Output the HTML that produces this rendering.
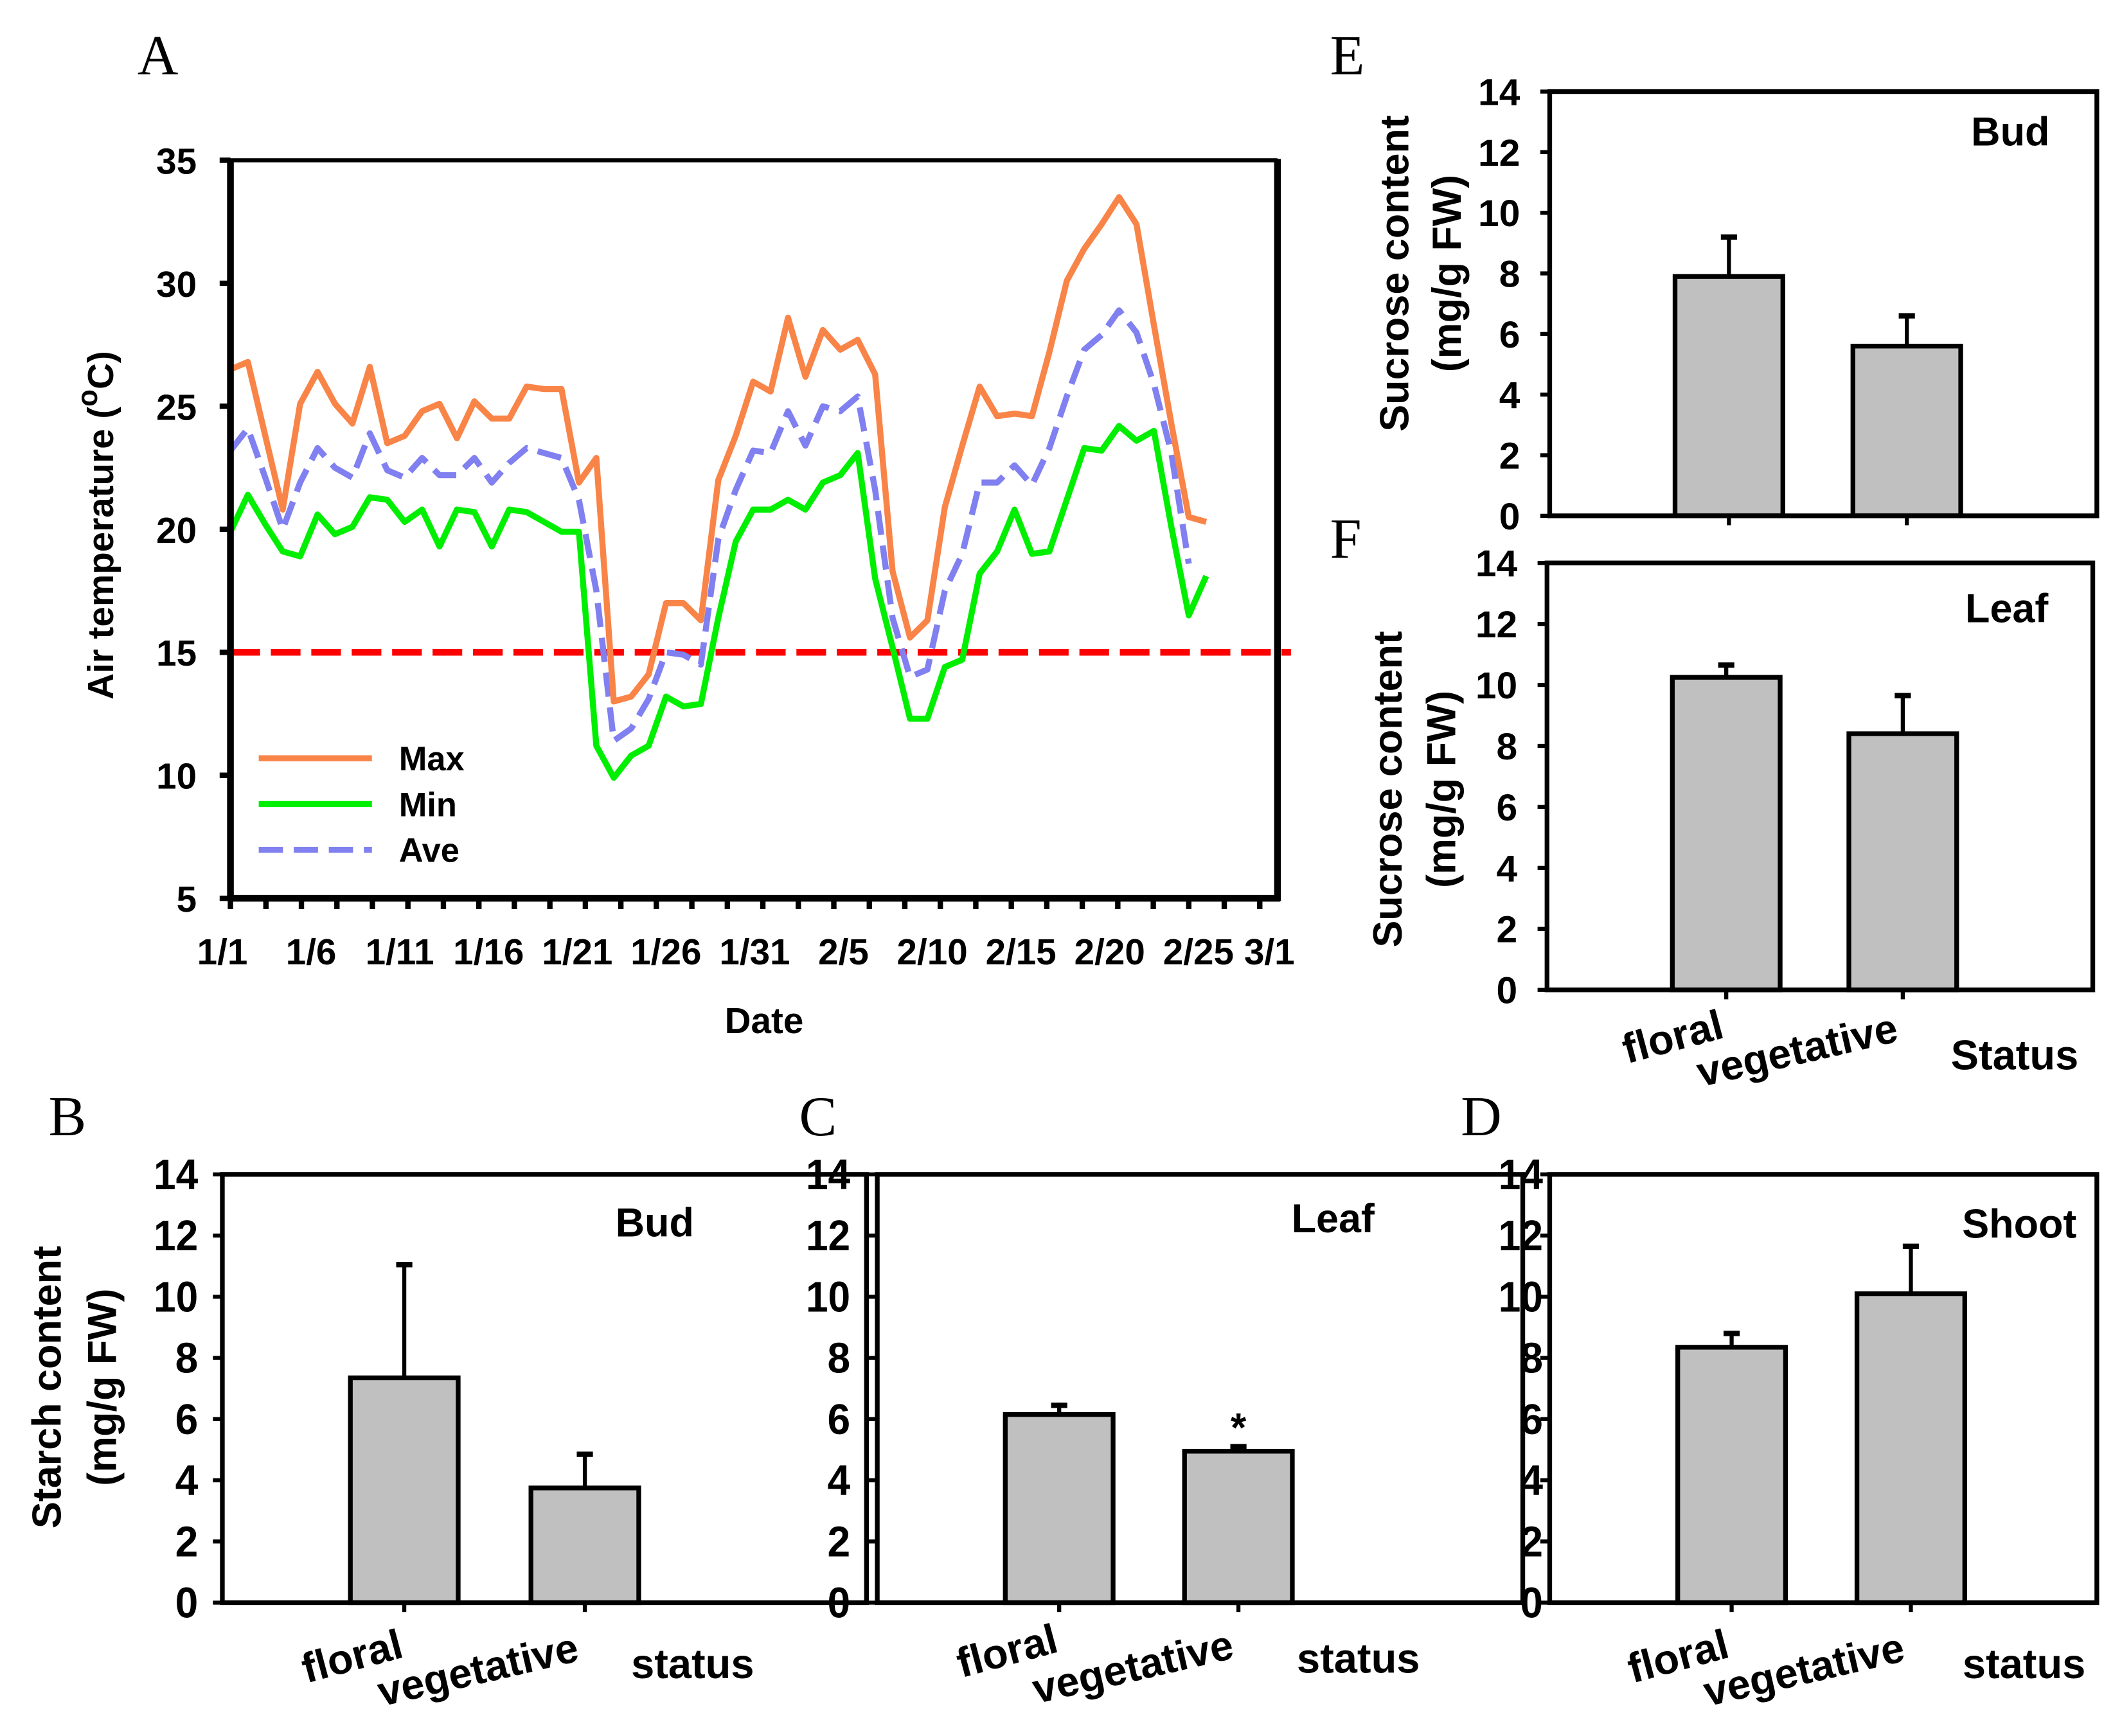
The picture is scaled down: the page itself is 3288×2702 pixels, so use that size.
<!DOCTYPE html>
<html><head><meta charset="utf-8"><style>
html,body{margin:0;padding:0;background:#fff}
svg{display:block}
text{font-family:"Liberation Sans",Arial,sans-serif;font-weight:bold;fill:#000}
.serif{font-family:"Liberation Serif",serif;font-weight:normal}
</style></head><body>
<svg id="fig" xmlns="http://www.w3.org/2000/svg" width="3288" height="2702" viewBox="0 0 1568 1289" preserveAspectRatio="none">
<rect width="1568" height="1289" fill="#fff"/>
<g id="root"></g>
</svg>
<script>
// ---- Panel A data ----
const dayIndex = Array.from({length:57},(_,i)=>i);
const maxTemp = [26.5,26.8,23.8,20.8,25.1,26.4,25.1,24.3,26.6,23.5,23.8,24.8,25.1,23.7,25.2,24.5,24.5,25.8,25.7,25.7,21.9,22.9,13.0,13.2,14.1,17.0,17.0,16.3,22.0,23.8,26.0,25.6,28.6,26.2,28.1,27.3,27.7,26.3,18.3,15.6,16.3,20.9,23.4,25.8,24.6,24.7,24.6,27.2,30.1,31.4,32.4,33.5,32.4,28.3,24.3,20.5,20.3];
const minTemp = [19.9,21.4,20.2,19.1,18.9,20.6,19.8,20.1,21.3,21.2,20.3,20.8,19.3,20.8,20.7,19.3,20.8,20.7,20.3,19.9,19.9,11.2,9.9,10.8,11.2,13.2,12.8,12.9,16.4,19.5,20.8,20.8,21.2,20.8,21.9,22.2,23.1,18.0,15.2,12.3,12.3,14.4,14.7,18.2,19.1,20.8,19.0,19.1,21.2,23.3,23.2,24.2,23.6,24.0,20.1,16.5,18.1];
const aveTemp = [23.2,24.1,22.1,20.0,21.9,23.3,22.5,22.1,23.9,22.4,22.1,22.9,22.2,22.2,22.9,21.9,22.7,23.3,23.1,22.9,21.2,17.5,11.4,11.9,13.1,15.0,14.9,14.5,19.6,21.6,23.2,23.1,24.8,23.4,25.0,24.8,25.4,21.6,16.4,14.0,14.3,17.5,19.0,21.9,21.9,22.6,21.8,23.3,25.4,27.3,27.9,28.9,28.0,25.9,23.1,18.6];
const thresholdTemp = 15;
const tempTicks = [5,10,15,20,25,30,35];
const dateLabels = ["1/1","1/6","1/11","1/16","1/21","1/26","1/31","2/5","2/10","2/15","2/20","2/25","3/1"];
const dateLabelDays = [0,5,10,15,20,25,30,35,40,45,50,55,59];

// ---- Bar panel data ----
const categories = ["floral","vegetative"];
const starchBud = [7.35,3.75]; const starchBudErr = [3.7,1.1];
const starchLeaf = [6.15,4.95]; const starchLeafErr = [0.3,0.15];
const starchShoot = [8.35,10.1]; const starchShootErr = [0.45,1.55];
const sucroseBud = [7.9,5.6]; const sucroseBudErr = [1.3,1.0];
const sucroseLeaf = [10.25,8.4]; const sucroseLeafErr = [0.4,1.25];
const barTicks = [0,2,4,6,8,10,12,14];

const NS="http://www.w3.org/2000/svg";
const root=document.getElementById('root');
function mk(tag,attrs,parent){const e=document.createElementNS(NS,tag);for(const k in attrs)e.setAttribute(k,attrs[k]);(parent||root).appendChild(e);return e;}
function txt(s,attrs,parent){const e=mk('text',attrs,parent);e.textContent=s;return e;}

// ===== Panel A =====
const A={x0:171,x1:948,y0:667,y1:119,tMin:5,tMax:35,perIdx:12.93,perDay:(948-171)/59};
const xIdx=i=>A.x0+i*A.perIdx;
const xDay=d=>A.x0+d*A.perDay;
const yT=t=>A.y0-(t-A.tMin)/(A.tMax-A.tMin)*(A.y0-A.y1);
const gA=mk('g',{});


let l=txt('A',{x:102,y:55,'font-size':42,class:'serif'},gA);

let th=mk('line',{x1:A.x0,x2:958,y1:yT(thresholdTemp),y2:yT(thresholdTemp),stroke:'#ff0000','stroke-width':5,'stroke-dasharray':'22 8'},gA);

function series(arr,color,dash,name){
  const p=mk('polyline',{points:arr.map((v,i)=>xIdx(i)+','+yT(v)).join(' '),fill:'none',stroke:color,'stroke-width':4.5,'stroke-linejoin':'round'},gA);
  if(dash)p.setAttribute('stroke-dasharray',dash);
  
}
series(aveTemp,'#8080f0','18 8','ave-line');
series(maxTemp,'#f98448',null,'max-line');
series(minTemp,'#00ee00',null,'min-line');
mk('line',{x1:A.x0,y1:A.y1,x2:A.x1,y2:A.y1,stroke:'#000','stroke-width':3},gA);
mk('line',{x1:A.x1,y1:A.y1-1,x2:A.x1,y2:A.y0+2,stroke:'#000','stroke-width':5},gA);
mk('line',{x1:A.x0,y1:A.y1-1,x2:A.x0,y2:A.y0+2,stroke:'#000','stroke-width':5},gA);
mk('line',{x1:A.x0-2,y1:A.y0,x2:A.x1+2,y2:A.y0,stroke:'#000','stroke-width':5},gA);
tempTicks.forEach(t=>{
  mk('line',{x1:A.x0-8,x2:A.x0,y1:yT(t),y2:yT(t),stroke:'#000','stroke-width':4},gA);
  let e=txt(String(t),{x:146,y:yT(t)+10,'font-size':27,'text-anchor':'end'},gA);
  
});
for(let d=0;d<=59;d+=2){mk('line',{x1:xDay(d),x2:xDay(d),y1:A.y0,y2:A.y0+8,stroke:'#000','stroke-width':4},gA);}
dateLabels.forEach((s,i)=>{
  let e=txt(s,{x:xDay(dateLabelDays[i])-6,y:716,'font-size':27,'text-anchor':'middle'},gA);
  
});
l=txt('Date',{x:567,y:767,'font-size':27,'text-anchor':'middle'},gA);

l=mk('text',{transform:'translate(84,390) rotate(-90)','font-size':27,'text-anchor':'middle'},gA);
l.innerHTML='Air temperature (<tspan dy="-12" font-size="21">o</tspan><tspan dy="12">C)</tspan>';

[['Max','#f98448',null,563],['Min','#00ee00',null,597],['Ave','#8080f0','18 8',631]].forEach(([n,c,d,y])=>{
  const g=mk('g',{},gA);
  
  const ln=mk('line',{x1:192,x2:276,y1:y,y2:y,stroke:c,'stroke-width':4.5},g);
  if(d)ln.setAttribute('stroke-dasharray',d);
  txt(n,{x:296,y:y+9,'font-size':25},g);
});

// ===== Bar panels =====
function barPanel(o){
  const g=mk('g',{});
  
  const yV=v=>o.yb-v/14*(o.yb-o.yt);
  const lab=txt(o.letter,{x:o.lx,y:o.ly,'font-size':42,class:'serif'},g);
  
  o.vals.forEach((v,i)=>{
    const cx=o.cx[i];
    const eb=mk('line',{x1:cx,x2:cx,y1:yV(v),y2:yV(v+o.errs[i]),stroke:'#000','stroke-width':3},g);
    
    mk('line',{x1:cx-6,x2:cx+6,y1:yV(v+o.errs[i]),y2:yV(v+o.errs[i]),stroke:'#000','stroke-width':4},g);
    const r=mk('rect',{x:cx-40,y:yV(v),width:80,height:o.yb-yV(v),fill:'#c0c0c0',stroke:'#000','stroke-width':3.5},g);
    
    mk('line',{x1:cx,x2:cx,y1:o.yb,y2:o.yb+7,stroke:'#000','stroke-width':3},g);
  });
  mk('rect',{x:o.x0,y:o.yt,width:o.x1-o.x0,height:o.yb-o.yt,fill:'none',stroke:'#000','stroke-width':3.5},g);
  barTicks.forEach(t=>{
    mk('line',{x1:o.x0-7,x2:o.x0,y1:yV(t),y2:yV(t),stroke:'#000','stroke-width':3},g);
    let e;
    if(o.condensed){
      const w=t>=10?33:17;
      e=txt(String(t),{x:o.tx-w,y:yV(t)+11,'font-size':o.tfs,'text-anchor':'start',textLength:w,lengthAdjust:'spacingAndGlyphs'},g);
    } else {
      e=txt(String(t),{x:o.tx,y:yV(t)+10,'font-size':o.tfs,'text-anchor':'end'},g);
    }
    
  });
  const tt=txt(o.title,{x:o.titx,y:o.tity,'font-size':30,'text-anchor':'end'},g);
  
  if(o.fl){
    let e=txt('floral',{transform:`translate(${o.fl[0]},${o.fl[1]}) rotate(-15)`,'font-size':31,'text-anchor':'middle'},g);
    
    e=txt('vegetative',{transform:`translate(${o.vg[0]},${o.vg[1]}) rotate(-13)`,'font-size':31,'text-anchor':'middle'},g);
    
    e=txt(o.st,{x:o.stp[0],y:o.stp[1],'font-size':31,'text-anchor':'middle'},g);
    
  }
  if(o.ytitle){
    let e=txt(o.ytitle[0],{transform:`translate(${o.ytx[0]},${o.yty}) rotate(-90)`,'font-size':30,'text-anchor':'middle'},g);
    
    e=txt(o.ytitle[1],{transform:`translate(${o.ytx[1]},${o.yty}) rotate(-90)`,'font-size':30,'text-anchor':'middle'},g);
    
  }
  if(o.star){const s=txt('*',{x:o.cx[1],y:yV(o.vals[1]+o.errs[1])-4,'font-size':30,'text-anchor':'middle'},g);
    }
}
barPanel({name:'panel-b-starch-bud',letter:'B',lx:36,ly:843,x0:165,x1:643,yt:872,yb:1190,cx:[300,434],vals:starchBud,errs:starchBudErr,tx:147,tfs:32,condensed:true,title:'Bud',titx:515,tity:918,fl:[264,1240],vg:[357,1250],st:'status',stp:[514,1246],ytitle:['Starch content','(mg/g FW)'],ytx:[45,86],yty:1030});
barPanel({name:'panel-c-starch-leaf',letter:'C',lx:593,ly:843,x0:651,x1:1130,yt:872,yb:1190,cx:[786,919],vals:starchLeaf,errs:starchLeafErr,tx:631,tfs:32,condensed:true,title:'Leaf',titx:1020,tity:915,fl:[750,1236],vg:[843,1248],st:'status',stp:[1008,1242],star:true});
barPanel({name:'panel-d-starch-shoot',letter:'D',lx:1084,ly:843,x0:1150,x1:1556,yt:872,yb:1190,cx:[1285,1418],vals:starchShoot,errs:starchShootErr,tx:1145,tfs:32,condensed:true,title:'Shoot',titx:1541,tity:919,fl:[1248,1240],vg:[1341,1250],st:'status',stp:[1502,1246]});
barPanel({name:'panel-e-sucrose-bud',letter:'E',lx:987,ly:55,x0:1150,x1:1556,yt:68,yb:383,cx:[1283,1415],vals:sucroseBud,errs:sucroseBudErr,tx:1128,tfs:28,title:'Bud',titx:1521,tity:108,ytitle:['Sucrose content','(mg/g FW)'],ytx:[1045,1084],yty:203});
barPanel({name:'panel-f-sucrose-leaf',letter:'F',lx:987,ly:414,x0:1148,x1:1553,yt:418,yb:735,cx:[1281,1412],vals:sucroseLeaf,errs:sucroseLeafErr,tx:1126,tfs:28,title:'Leaf',titx:1520,tity:462,fl:[1244,780],vg:[1336,790],st:'Status',stp:[1495,794],ytitle:['Sucrose content','(mg/g FW)'],ytx:[1040,1080],yty:586});
</script>
</body></html>
